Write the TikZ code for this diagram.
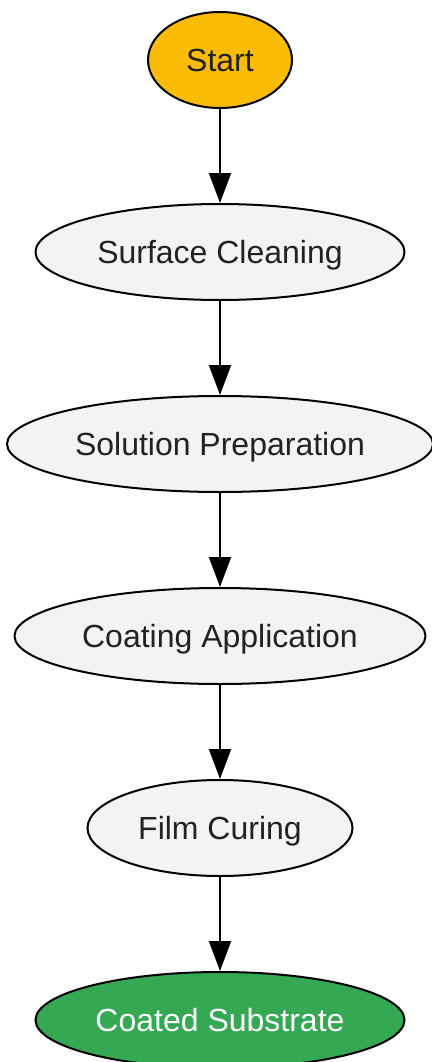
\documentclass[tikz,border=0pt]{standalone}
\usepackage{fontspec}
\setmainfont{Liberation Sans}
\usetikzlibrary{shapes.geometric, arrows.meta}
\definecolor{startfill}{HTML}{FBBC05}
\definecolor{stepfill}{HTML}{F1F3F5}
\definecolor{endfill}{HTML}{34A853}
\definecolor{textcol}{HTML}{222222}
\begin{document}
\begin{tikzpicture}[
        x = 1pt, y = -1pt,
        blob/.style = {ellipse, draw = black, line width = 2pt, inner sep = 0pt,
            minimum height = 96pt, text height = 23pt, text depth = 0pt,
            text = textcol, font = \fontsize{32}{38}\selectfont},
        flow/.style = {-{Triangle[length = 30pt, width = 22pt]}, line width = 2pt}
    ]
        \useasboundingbox (0, 0) rectangle (431, 1062);

        \node [blob, fill = startfill, minimum width = 144pt] (start) at (220, 60) {Start};
        \node [blob, fill = stepfill, minimum width = 369pt] (clean) at (220, 252) {Surface Cleaning};
        \node [blob, fill = stepfill, minimum width = 426pt] (solution) at (220, 444) {Solution Preparation};
        \node [blob, fill = stepfill, minimum width = 411pt] (coating) at (220, 636) {Coating Application};
        \node [blob, fill = stepfill, minimum width = 265pt] (curing) at (220, 828) {Film Curing};
        \node [blob, fill = endfill, text = white, minimum width = 369pt] (substrate) at (220, 1020) {Coated Substrate};

        \draw [flow] (start) -- (clean);
        \draw [flow] (clean) -- (solution);
        \draw [flow] (solution) -- (coating);
        \draw [flow] (coating) -- (curing);
        \draw [flow] (curing) -- (substrate);
    \end{tikzpicture}
\end{document}
